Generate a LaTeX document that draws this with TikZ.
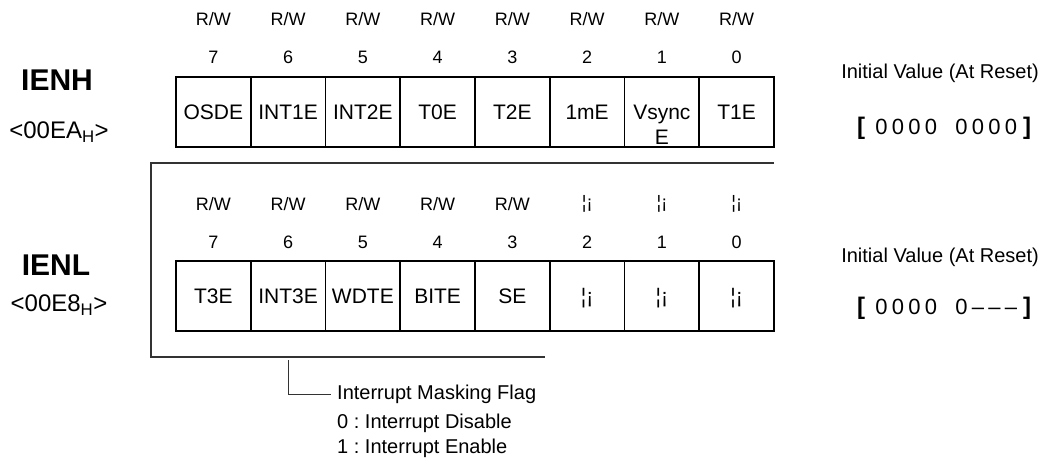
\documentclass[tikz,border=0pt]{standalone}
\usepackage{fontspec}
\setmainfont{Liberation Sans}
\newcommand\dg[1]{\makebox[16.5pt]{#1}}

\begin{document}
\begin{tikzpicture}[x=1pt, y=-1pt,
  cell/.style={draw, line width=1.8pt, minimum width=74.75pt, minimum height=70pt, inner sep=0pt, font=\fontsize{21}{25}\selectfont, text height=15pt, text depth=0pt},
  bitlbl/.style={font=\fontsize{18}{21}\selectfont},
  regname/.style={font=\fontsize{30}{34}\selectfont\bfseries},
  regaddr/.style={font=\fontsize{24}{28}\selectfont},
  frame/.style={black!80, line width=1.1pt},
  note/.style={font=\fontsize{20}{24}\selectfont\frenchspacing, inner sep=0pt, anchor=west},
  resetval/.style={font=\fontsize{22}{22}\selectfont, inner sep=0pt, anchor=west}]

\useasboundingbox (0,0) rectangle (1044,472);

\node[regname] (ienh) at (57,80) {IENH};
\node[regaddr] (ienhaddr) at (59,132) {<00EA\textsubscript{H}>};

\foreach \n/\txt [count=\i from 0] in {7/OSDE, 6/INT1E, 5/INT2E, 4/T0E, 3/T2E, 2/1mE, 1/{\begin{tabular}[t]{@{}c@{}}Vsync\\E\end{tabular}}, 0/T1E} {
  \node[bitlbl] (hrw\n) at (213.4+74.75*\i,19) {R/W};
  \node[bitlbl] (hno\n) at (213.4+74.75*\i,57) {\n};
  \node[cell] (h\n) at (213.4+74.75*\i,112) {\txt};
}

\node[note, anchor=east] (inith) at (1039,73) {Initial Value (At Reset)};
\node[resetval] (valh) at (857,128) {{\fontsize{24}{24}\selectfont\bfseries [}\hspace{8pt}\dg0\dg0\dg0\dg0\hspace{14pt}\dg0\dg0\dg0\dg0\hspace{4pt}{\fontsize{24}{24}\selectfont\bfseries ]}};

\coordinate (ftr) at (774,163);
\coordinate (ftl) at (151,163);
\coordinate (fbl) at (151,357);
\coordinate (fbr) at (545,357);
\draw[frame] (ftr) -- (ftl) -- (fbl) -- (fbr);

\node[regname] (ienl) at (56,265) {IENL};
\node[regaddr] (ienladdr) at (59,305) {<00E8\textsubscript{H}>};

\foreach \n/\acc/\txt [count=\i from 0] in {7/{R/W}/T3E, 6/{R/W}/INT3E, 5/{R/W}/WDTE, 4/{R/W}/BITE, 3/{R/W}/SE, 2/¦¡/¦¡, 1/¦¡/¦¡, 0/¦¡/¦¡} {
  \node[bitlbl] (lrw\n) at (213.4+74.75*\i,204) {\acc};
  \node[bitlbl] (lno\n) at (213.4+74.75*\i,242) {\n};
  \node[cell] (l\n) at (213.4+74.75*\i,296) {\txt};
}

\node[note, anchor=east] (initl) at (1039,257) {Initial Value (At Reset)};
\node[resetval] (vall) at (857,308) {{\fontsize{24}{24}\selectfont\bfseries [}\hspace{8pt}\dg0\dg0\dg0\dg0\hspace{14pt}\dg0\dg–\dg–\dg–\hspace{4pt}{\fontsize{24}{24}\selectfont\bfseries ]}};

\coordinate (tap) at (288,360);
\node[note] (flag) at (337,394) {Interrupt Masking Flag};
\node[note] (flag0) at (337,423) {0 : Interrupt Disable};
\node[note] (flag1) at (337,448) {1 : Interrupt Enable};
\draw[frame, line width=0.8pt] (tap) |- ([xshift=-6pt]flag.west);
\end{tikzpicture}
\end{document}
